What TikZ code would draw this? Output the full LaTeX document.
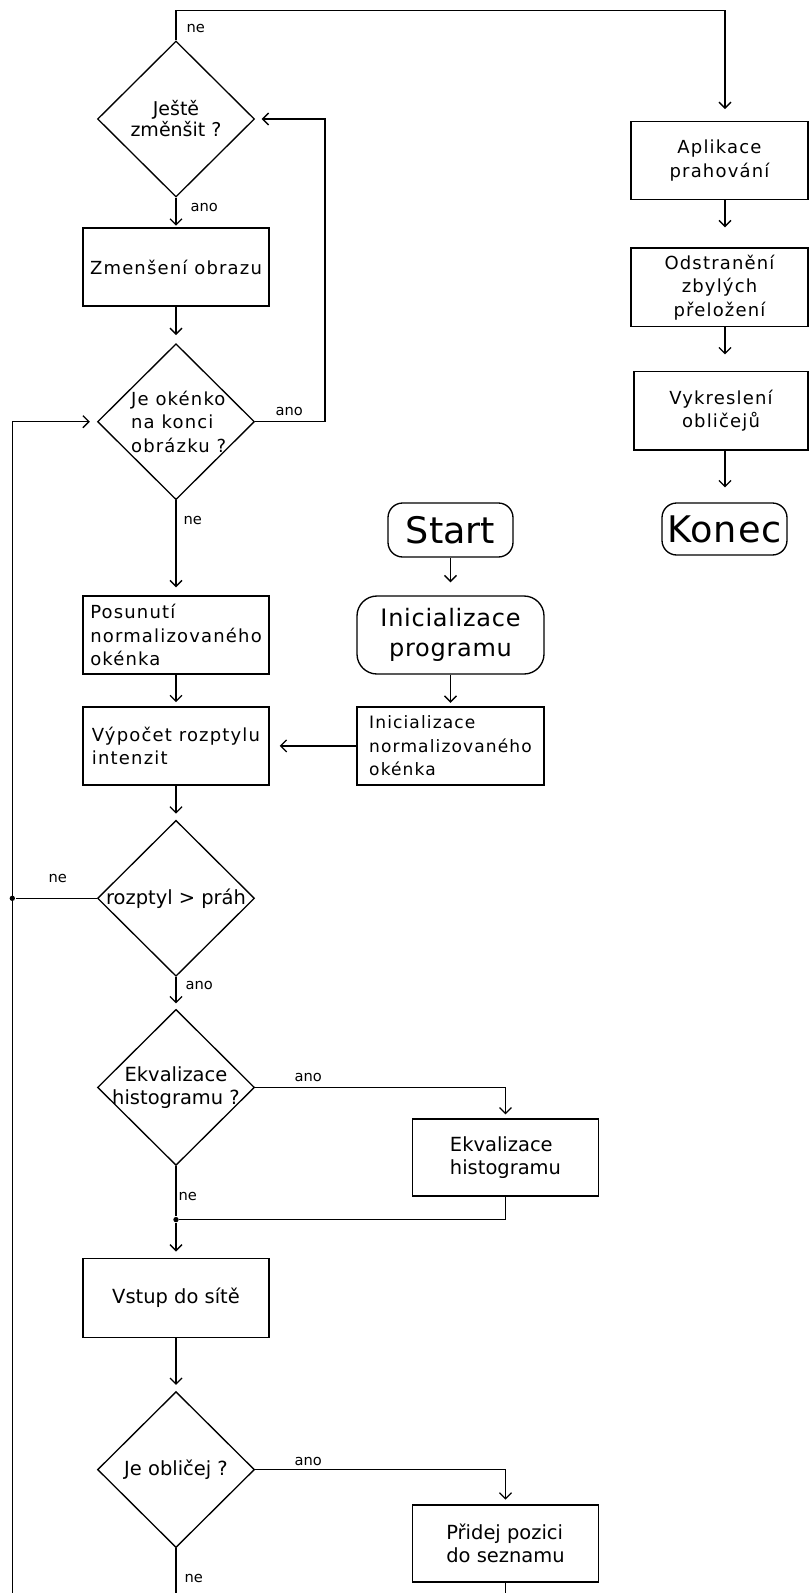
\documentclass[tikz,border=0pt]{standalone}
\usepackage{fontspec}
\setmainfont{DejaVu Sans}
\newfontfamily\spcfont[LetterSpace=6.5]{DejaVu Sans}
\newfontfamily\spcfontb[LetterSpace=3]{DejaVu Sans}
\usetikzlibrary{shapes.geometric,arrows.meta}
\begin{document}
\begin{tikzpicture}[x=0.75pt,y=-0.75pt,line width=1pt,
  txtsp/.style={font=\spcfont\fontsize{13.5}{17.6}\selectfont},
  txtspb/.style={font=\spcfont\fontsize{12.8}{17.6}\selectfont},
  txtnm/.style={font=\fontsize{14.6}{17.6}\selectfont},
  txtq/.style={font=\fontsize{14.25}{15.75}\selectfont},
  pbox/.style={draw,rectangle,inner sep=0pt,minimum width=186*0.75pt,minimum height=78*0.75pt},
  rbox/.style={draw,rectangle,inner sep=0pt},
  dia/.style={draw,diamond,inner sep=0pt,minimum width=157*0.75pt,minimum height=156*0.75pt},
  arr/.style={-{Straight Barb[length=4.5pt,width=9pt]}},
  lab/.style={font=\fontsize{11}{13}\selectfont,anchor=west,inner sep=0pt},
  dot/.style={circle,fill,inner sep=0pt,minimum size=4pt}]
\useasboundingbox (0,0) rectangle (809,1593);
\clip (0,0) rectangle (809,1593);

% diamonds
\node[dia,label={[txtq,align=center]center:{Ještě\\změnšit ?}}] (d1) at (176,119) {};
\node[dia,label={[txtsp,align=left,xshift=2pt]center:{Je okénko\\na konci\\obrázku ?}}] (d2) at (176,421.7) {};
\node[dia,label={[txtnm]center:{rozptyl > práh}}] (d3) at (176,898.3) {};
\node[dia,label={[txtnm,align=center]center:{Ekvalizace\\histogramu ?}}] (d4) at (176,1087.4) {};
\node[dia,label={[txtnm]center:{Je obličej ?}}] (d5) at (176,1469.6) {};

% main column boxes
\node[pbox,txtsp] (zmen) at (176,267) {Zmenšení obrazu};
\node[pbox,txtsp,align=left] (posu) at (176,635) {Posunutí\\normalizovaného\\okénka};
\node[pbox,txtsp,align=left] (vyp) at (176,745.9) {Výpočet rozptylu\\intenzit};
\node[pbox,txtnm,minimum height=79*0.75pt] (vst) at (176,1297.7) {Vstup do sítě};
\node[pbox,txtnm,align=left,minimum height=77*0.75pt] (ekv) at (505.5,1157.6) {Ekvalizace\\histogramu};
\node[pbox,txtnm,align=left,minimum height=77*0.75pt] (pri) at (505.5,1543.5) {Přidej pozici\\do seznamu};

% start column
\node[rbox,rounded corners=11pt,minimum width=125*0.75pt,minimum height=54*0.75pt,
      font=\fontsize{27.4}{30}\selectfont] (start) at (450.5,530) {Start};
\node[rbox,rounded corners=15pt,minimum width=187*0.75pt,minimum height=78*0.75pt,align=center,
      font=\spcfontb\fontsize{18}{22}\selectfont] (prog) at (450.5,635) {Inicializace\\programu};
\node[pbox,txtspb,align=left,minimum width=187*0.75pt] (inn) at (450.5,745.9) {Inicializace\\normalizovaného\\okénka};

% right column
\coordinate (col) at (725,0);
\node[rbox,txtsp,align=center,minimum width=177*0.75pt,minimum height=77.6*0.75pt] (ap) at (719.5,160.5) {Aplikace\\prahování};
\node[rbox,txtsp,align=center,minimum width=177*0.75pt,minimum height=78.7*0.75pt] (od) at (719.5,287.3) {Odstranění\\zbylých\\přeložení};
\node[rbox,txtsp,align=center,minimum width=174*0.75pt,minimum height=78.3*0.75pt] (vk) at (721,410.9) {Vykreslení\\obličejů};
\node[rbox,rounded corners=11pt,minimum width=125*0.75pt,minimum height=52*0.75pt,
      font=\spcfontb\fontsize{27.5}{30}\selectfont] (konec) at (724.5,529) {Konec};

% helper coordinates
\coordinate (tr) at (725,10.5);
\coordinate (rl) at (325,0);
\coordinate (bl) at (12.3,1593);
\coordinate (bot) at (0,1593);
\node[dot] (j1) at (12.3,898.3) {};
\node[dot] (j2) at (176,1219.6) {};

% connectors main column
\draw[arr,shorten >=9pt] (d1.north) |- (tr) -- (ap.north -| col);
\draw[arr,shorten >=1.2pt] (d1) -- (zmen);
\draw[arr,shorten >=6pt] (zmen) -- (d2);
\draw[arr,shorten >=6pt] (d2) -- (posu);
\draw[arr,shorten >=3pt] (posu) -- (vyp);
\draw[arr,shorten >=4.5pt] (vyp) -- (d3);
\draw[arr,shorten >=4pt] (d3) -- (d4);
\draw (d4.south) -- (j2);
\draw[arr,shorten >=4.5pt] (j2) -- (vst);
\draw[arr,shorten >=4.5pt] (vst) -- (d5);
\draw (d5.south) -- (d5.south |- bot);

% loops
\draw[arr,shorten >=4.9pt] (d2.east) -- (d2.east -| rl) |- (d1.east);
\draw[arr,shorten >=5.2pt] (bl) |- (d2.west);
\draw (d3.west) -- (j1);

% branches
\draw[arr,shorten >=3pt] (d4.east) -| (ekv.north);
\draw (ekv.south) |- (j2);
\draw[arr,shorten >=3.5pt] (d5.east) -| (pri.north);
\draw (pri.south) -- (pri.south |- bot);

% start column
\draw[arr,shorten >=9.75pt] (start) -- (prog);
\draw[arr,shorten >=2.6pt] (prog) -- (inn);
\draw[arr,shorten >=7.5pt] (inn.west) -- (vyp.east);

% right column
\draw[arr,shorten >=15pt] (ap.south -| col) -- (od.north -| col);
\draw[arr,shorten >=12.5pt] (od.south -| col) -- (vk.north -| col);
\draw[arr,shorten >=11.2pt] (vk.south -| col) -- (konec.north -| col);

% labels
\node[lab] (l1) at (186,28) {ne};
\node[lab] (l2) at (190,207) {ano};
\node[lab] (l3) at (275,411) {ano};
\node[lab] (l4) at (183,520) {ne};
\node[lab] (l5) at (48,878) {ne};
\node[lab] (l6) at (185,985) {ano};
\node[lab] (l7) at (294,1077) {ano};
\node[lab] (l8) at (178,1196) {ne};
\node[lab] (l9) at (294,1461) {ano};
\node[lab] (l10) at (184,1578) {ne};
\end{tikzpicture}
\end{document}
